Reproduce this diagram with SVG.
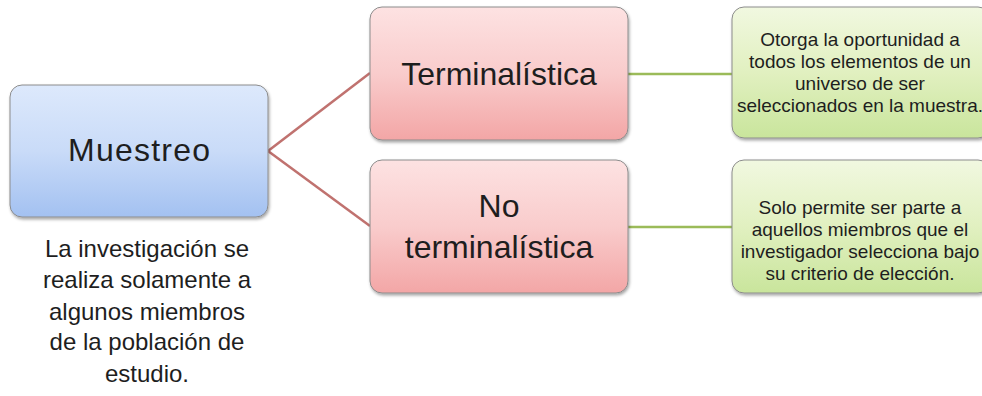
<svg xmlns="http://www.w3.org/2000/svg" width="982" height="396" viewBox="0 0 982 396">
<defs>
<linearGradient id="gBlue" x1="0" y1="0" x2="0" y2="1">
<stop offset="0" stop-color="#dde9fc"/><stop offset="0.5" stop-color="#c9dbf8"/><stop offset="1" stop-color="#a3c1f1"/>
</linearGradient>
<linearGradient id="gPink" x1="0" y1="0" x2="0" y2="1">
<stop offset="0" stop-color="#fde2e2"/><stop offset="0.5" stop-color="#f9cccc"/><stop offset="1" stop-color="#f3a6a6"/>
</linearGradient>
<linearGradient id="gGreen" x1="0" y1="0" x2="0" y2="1">
<stop offset="0" stop-color="#f1f8e0"/><stop offset="0.5" stop-color="#e1f0c0"/><stop offset="1" stop-color="#c9e59c"/>
</linearGradient>
<filter id="sh" x="-10%" y="-10%" width="120%" height="130%">
<feDropShadow dx="1" dy="2" stdDeviation="1.5" flood-color="#000" flood-opacity="0.35"/>
</filter>
</defs>
<style>
.box{stroke:#8c8c8c;stroke-width:1;filter:url(#sh)}
.t{font-family:"Liberation Sans",Arial,sans-serif;fill:#1e1e1e;text-anchor:middle}
.big{font-size:32px}
.body{font-size:24px}
.small{font-size:19px}
.red{stroke:#c0726f;stroke-width:2.5;fill:none}
.grn{stroke:#9bbb59;stroke-width:2.5;fill:none}
</style>
<g id="connectors">
<path class="red" d="M268 151 L370 73"/>
<path class="red" d="M268 151 L370 226"/>
<path class="grn" d="M628 74 L732 74"/>
<path class="grn" d="M628 227 L732 227"/>
</g>
<g id="muestreo">
<rect class="box" x="10" y="85" width="258" height="132" rx="12" fill="url(#gBlue)"/>
<text class="t big" x="139" y="161" textLength="142">Muestreo</text>
</g>
<g id="muestreo-desc">
<text class="t body" x="147" y="257">La investigación se</text>
<text class="t body" x="147" y="288">realiza solamente a</text>
<text class="t body" x="147" y="320">algunos miembros</text>
<text class="t body" x="147" y="350">de la población de</text>
<text class="t body" x="147" y="382">estudio.</text>
</g>
<g id="terminalistica">
<rect class="box" x="370" y="7" width="258" height="133" rx="12" fill="url(#gPink)"/>
<text class="t big" x="499" y="85">Terminalística</text>
</g>
<g id="no-terminalistica">
<rect class="box" x="370" y="160" width="258" height="133" rx="12" fill="url(#gPink)"/>
<text class="t big" x="499" y="217">No</text>
<text class="t big" x="499" y="258">terminalística</text>
</g>
<g id="desc-terminalistica">
<rect class="box" x="732" y="7" width="258" height="131" rx="12" fill="url(#gGreen)"/>
<text class="t small" x="860" y="46">Otorga la oportunidad a</text>
<text class="t small" x="860" y="68">todos los elementos de un</text>
<text class="t small" x="860" y="90">universo de ser</text>
<text class="t small" x="860" y="112">seleccionados en la muestra.</text>
</g>
<g id="desc-no-terminalistica">
<rect class="box" x="732" y="160" width="258" height="133" rx="12" fill="url(#gGreen)"/>
<text class="t small" x="860" y="214">Solo permite ser parte a</text>
<text class="t small" x="860" y="236">aquellos miembros que el</text>
<text class="t small" x="860" y="258">investigador selecciona bajo</text>
<text class="t small" x="860" y="280">su criterio de elección.</text>
</g>
</svg>
